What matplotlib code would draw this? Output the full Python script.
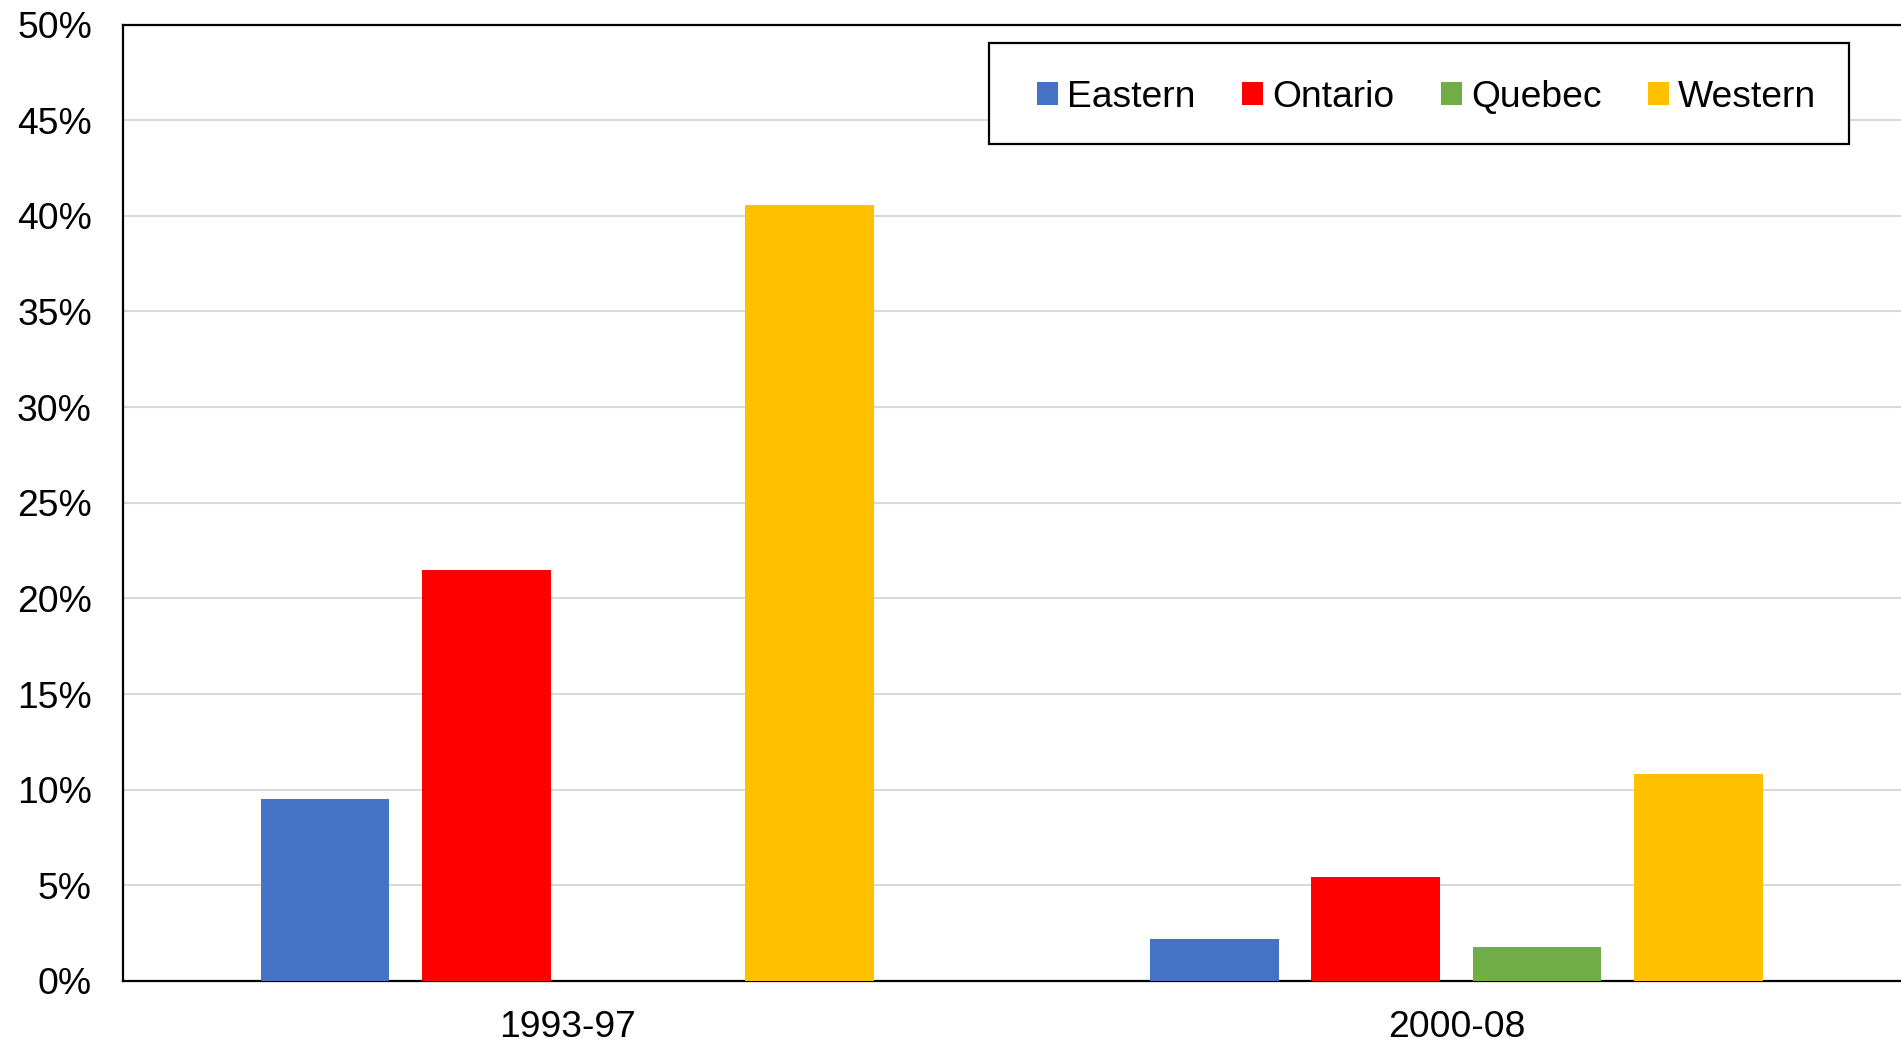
import numpy as np
import matplotlib
matplotlib.use("Agg")
import matplotlib.pyplot as plt
from matplotlib.ticker import PercentFormatter
from matplotlib.patches import Rectangle

plt.rcParams['font.family'] = ['Liberation Sans', 'DejaVu Sans']

periods = ["1993-97", "2000-08"]
regions = ["Eastern", "Ontario", "Quebec", "Western"]
eastern = [9.5, 2.2]
ontario = [21.5, 5.45]
quebec = [np.nan, 1.8]
western = [40.55, 10.8]
colors = ["#4472C4", "#FF0000", "#70AD47", "#FFC000"]
series = [eastern, ontario, quebec, western]

fig = plt.figure(figsize=(19.01, 10.43), dpi=100)
ax = fig.add_axes([122.5/1901, 1-981/1043, (1901-122.5)/1901, (981-24.5)/1043])

x = np.arange(len(periods))
step = 0.1815
width = 0.1446
for i, (name, vals, c) in enumerate(zip(regions, series, colors)):
    ax.bar(x + (i - 1.5) * step, vals, width=width, color=c, label=name, zorder=3)

ax.set_xlim(-0.5, 1.5)
ax.set_ylim(0, 50)
ax.set_yticks(np.arange(0, 51, 5))
ax.yaxis.set_major_formatter(PercentFormatter(decimals=0))
ax.set_xticks(x)
ax.set_xticklabels(periods)
ax.tick_params(axis='both', length=0, labelsize=26.8)
ax.tick_params(axis='y', pad=22)
ax.tick_params(axis='x', pad=21)
ax.grid(axis='y', color='#d9d9d9', linewidth=1.5, zorder=0)
for s in ['left', 'bottom', 'top']:
    ax.spines[s].set_linewidth(1.6)
    ax.spines[s].set_color('black')
ax.spines['right'].set_visible(False)

# legend frame
frame = Rectangle((0.4872, 0.8754), 0.4837, 0.1049, transform=ax.transAxes,
                  facecolor='white', edgecolor='black', linewidth=1.6, zorder=4)
ax.add_patch(frame)

leg = ax.legend(ncol=4, loc='center', bbox_to_anchor=(0.7333, 0.9241),
                fontsize=26.8, frameon=False,
                handlelength=0.55, handleheight=0.55, handletextpad=0.25,
                columnspacing=1.26, borderpad=0, borderaxespad=0)
leg.set_zorder(5)

fig.savefig("out.png", dpi=100)
